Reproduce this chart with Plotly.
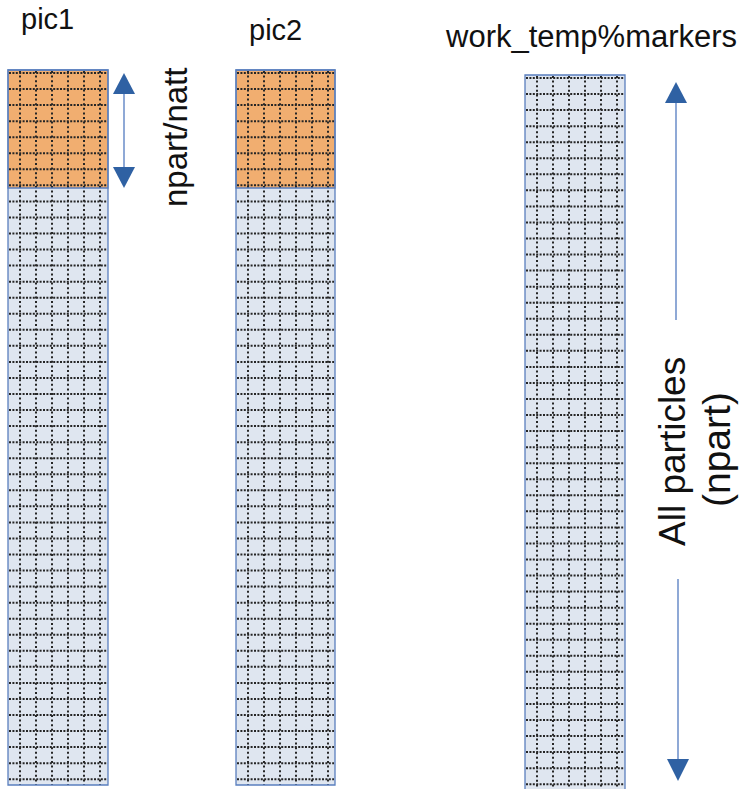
import plotly.graph_objects as go

# ---- content ----
column_labels = ["pic1", "pic2", "work_temp%markers"]
highlight_labels = ["npart/natt"]
all_label_lines = ["All particles", "(npart)"]

# geometry (page pixel units)
W, H = 746, 789
col_x0 = [8, 236, 525]
col_x1 = [108, 335, 625]
col_y0 = [70, 70, 75]
col_y1 = [785, 785, 800]
hl_y1 = [188, 188, None]
title_pos = [(47, 1), (275, 12), (591, 17)]
title_size = [29, 29, 31]

BLUE_FILL = "#dfe6f0"
BORDER = "#5a7fbe"
ORANGE = "#f1ae70"
DOT = "#262626"
ARROW_LINE = "#8fa9d6"
ARROW_HEAD = "#2f61a3"
FONT = "Liberation Sans, Arial, sans-serif"

fig = go.Figure()
shapes = []
annotations = []

for i in range(len(column_labels)):
    x0, x1, y0, y1 = col_x0[i], col_x1[i], col_y0[i], col_y1[i]
    shapes.append(dict(type="rect", x0=x0, x1=x1, y0=y0, y1=y1,
                       fillcolor=BLUE_FILL, line=dict(width=0), layer="below"))
    if hl_y1[i] is not None:
        shapes.append(dict(type="rect", x0=x0, x1=x1, y0=y0, y1=hl_y1[i],
                           fillcolor=ORANGE, line=dict(width=0), layer="below"))
    # horizontal dotted grid
    hx, hy = [], []
    y = y0 + 3
    while y < min(y1, H + 2):
        hx += [x0 + 1, x1 - 1, None]
        hy += [y, y, None]
        y += 16.05
    fig.add_trace(go.Scatter(x=hx, y=hy, mode="lines", hoverinfo="skip",
                             line=dict(color=DOT, width=2, dash="2px,1.4px"),
                             showlegend=False))
    vx, vy = [], []
    x = x0 + 12
    while x < x1 - 2:
        vx += [x, x, None]
        vy += [y0 + 1, y1, None]
        x += 16
    fig.add_trace(go.Scatter(x=vx, y=vy, mode="lines", hoverinfo="skip",
                             line=dict(color=DOT, width=2, dash="2px,2.6px"),
                             showlegend=False))
    # borders
    shapes.append(dict(type="rect", x0=x0, x1=x1, y0=y0, y1=y1,
                       fillcolor="rgba(0,0,0,0)", line=dict(color=BORDER, width=1.3)))
    if hl_y1[i] is not None:
        shapes.append(dict(type="rect", x0=x0, x1=x1, y0=y0, y1=hl_y1[i],
                           fillcolor="rgba(0,0,0,0)", line=dict(color=BORDER, width=1.3)))
    tx, ty = title_pos[i]
    annotations.append(dict(x=tx, y=ty, text=column_labels[i], showarrow=False,
                            xanchor="center", yanchor="top",
                            font=dict(family=FONT, size=title_size[i], color="#111")))


def tri(ax, ay, by, half):
    return dict(type="path", path=f"M {ax-half} {by} L {ax+half} {by} L {ax} {ay} Z",
                fillcolor=ARROW_HEAD, line=dict(width=0))


# npart/natt double arrow
shapes.append(dict(type="line", x0=124, x1=124, y0=92, y1=170,
                   line=dict(color=ARROW_LINE, width=2)))
shapes.append(tri(124, 73, 94, 11))
shapes.append(tri(124, 188, 167, 11))
annotations.append(dict(x=175, y=138, text=highlight_labels[0], showarrow=False,
                        textangle=-90, xanchor="center", yanchor="middle",
                        font=dict(family=FONT, size=33, color="#111")))

# all particles arrows
shapes.append(dict(type="line", x0=676, x1=676, y0=100, y1=320,
                   line=dict(color=ARROW_LINE, width=2)))
shapes.append(tri(676, 82, 103, 11))
shapes.append(dict(type="line", x0=678, x1=678, y0=579, y1=762,
                   line=dict(color=ARROW_LINE, width=2)))
shapes.append(tri(678, 781, 759, 11))
annotations.append(dict(x=672, y=452, text=all_label_lines[0], showarrow=False,
                        textangle=-90, xanchor="center", yanchor="middle",
                        font=dict(family=FONT, size=37, color="#111")))
annotations.append(dict(x=716, y=450, text=all_label_lines[1], showarrow=False,
                        textangle=-90, xanchor="center", yanchor="middle",
                        font=dict(family=FONT, size=39, color="#111")))

fig.update_layout(
    width=W, height=H, margin=dict(l=0, r=0, t=0, b=0),
    paper_bgcolor="white", plot_bgcolor="white",
    xaxis=dict(range=[0, W], visible=False, fixedrange=True),
    yaxis=dict(range=[H, 0], visible=False, fixedrange=True),
    shapes=shapes, annotations=annotations, showlegend=False,
)
fig.write_html("out.html", config={"displayModeBar": False},
               post_script="document.body.style.margin='0px';document.body.style.overflow='hidden';")
